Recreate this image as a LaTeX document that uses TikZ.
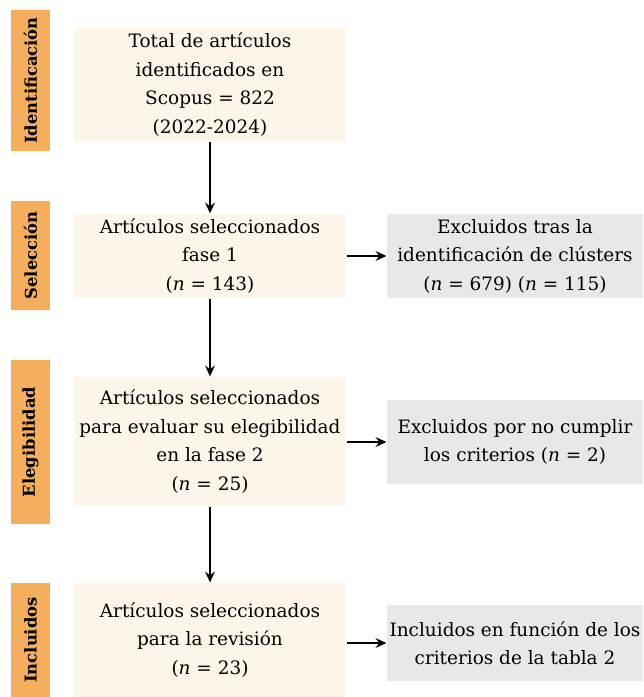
\documentclass[tikz,border=0pt]{standalone}
\usepackage{fontspec}
\setmainfont{DejaVu Serif}
\usepackage{tikz}
\usetikzlibrary{arrows.meta}

\definecolor{phasecol}{HTML}{F5AE5E}
\definecolor{boxcol}{HTML}{FEF5EA}
\definecolor{exclcol}{HTML}{E8E8E8}

\begin{document}
\begin{tikzpicture}[
   phase/.style={fill=phasecol, rotate=90, minimum height=.78cm, inner sep=0pt,
      font=\bfseries\fontsize{9.3}{10}\selectfont},
   stagebox/.style={fill=boxcol, minimum width=5.44cm, align=center, inner sep=0pt,
      font=\fontsize{10.5}{16.2}\selectfont},
   exclbox/.style={fill=exclcol, minimum width=5.12cm, align=center, inner sep=0pt,
      font=\fontsize{10.5}{16.2}\selectfont},
   >={Stealth[length=2.2mm, width=2mm, inset=.8mm]}, line width=.7pt]
   \useasboundingbox (0, 0) rectangle (12.86, -13.94);
   % Phase labels
   \foreach \y/\h/\t/\n in {-1.61/2.82/Identificación/pid, -5.11/2.18/Selección/psel,
         -8.84/3.28/Elegibilidad/peleg, -12.80/2.28/Incluidos/pinc}
      \node [phase, minimum width=\h cm] (\n) at (.61, \y) {\t};
   % Main column
   \node [stagebox, minimum height=2.26cm] (b1) at (4.2, -1.69)
      {Total de artículos\\identificados en\\Scopus = 822\\(2022-2024)};
   \node [stagebox, minimum height=1.68cm] (b2) at (4.2, -5.12)
      {Artículos seleccionados\\fase 1\\(\textit{n} = 143)};
   \node [stagebox, minimum height=2.58cm] (b3) at (4.2, -8.83)
      {Artículos seleccionados\\para evaluar su elegibilidad\\en la fase 2\\(\textit{n} = 25)};
   \node [stagebox, minimum height=2.28cm] (b4) at (4.2, -12.80)
      {Artículos seleccionados\\para la revisión\\(\textit{n} = 23)};
   % Side column
   \node [exclbox, minimum height=1.68cm] (r1) at (10.30, -5.12)
      {Excluidos tras la\\identificación de clústers\\(\textit{n} = 679) (\textit{n} = 115)};
   \node [exclbox, minimum height=1.68cm] (r2) at (10.30, -8.84)
      {Excluidos por no cumplir\\los criterios (\textit{n} = 2)};
   \node [exclbox, minimum height=1.52cm] (r3) at (10.30, -12.86)
      {Incluidos en función de los\\criterios de la tabla 2};
   % Arrows
   \foreach \a/\b in {b1/b2, b2/b3, b3/b4}
      \draw [->] (\a) -- (\b);
   \foreach \a/\b in {b2/r1, b3/r2, b4/r3}
      \draw [->] (\a.east |- \b.west) -- (\b.west);
\end{tikzpicture}
\end{document}
